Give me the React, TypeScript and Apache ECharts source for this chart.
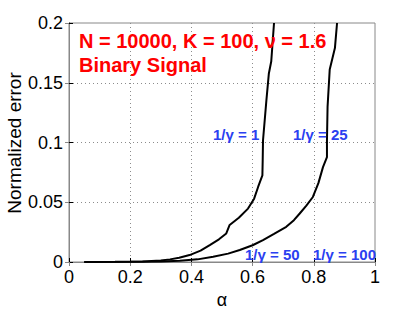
import React, { useEffect, useRef } from "react";
import * as echarts from "echarts";

// Curve data (α, normalized error)
const alphaA = [0.05, 0.15, 0.24, 0.3, 0.33, 0.36, 0.394, 0.43, 0.46, 0.49, 0.514, 0.525, 0.555, 0.585, 0.605, 0.618, 0.632, 0.633, 0.634, 0.645, 0.653, 0.661, 0.67];
const errA = [0, 0.0002, 0.0005, 0.0012, 0.0022, 0.0035, 0.0058, 0.0095, 0.0142, 0.019, 0.0239, 0.031, 0.037, 0.0447, 0.053, 0.0628, 0.0725, 0.085, 0.1017, 0.135, 0.1575, 0.168, 0.2];

const alphaB = [0.05, 0.2, 0.3, 0.362, 0.42, 0.471, 0.52, 0.558, 0.6, 0.634, 0.67, 0.71, 0.735, 0.754, 0.775, 0.797, 0.815, 0.83, 0.843, 0.843, 0.845, 0.852, 0.869, 0.876];
const errB = [0, 0.0002, 0.0005, 0.001, 0.0022, 0.0044, 0.007, 0.01, 0.014, 0.0183, 0.0235, 0.0294, 0.035, 0.0406, 0.047, 0.0544, 0.066, 0.0794, 0.0878, 0.1017, 0.13, 0.161, 0.179, 0.2];

const curveLabels = ["1/γ = 1", "1/γ = 25", "1/γ = 50", "1/γ = 100"];
const titleLines = ["N = 10000, K = 100, ν = 1.6", "Binary Signal"];
const xName = "α";
const yName = "Normalized error";

const FONT = '"Liberation Sans", Arial, Helvetica, sans-serif';

export default function App() {
  const ref = useRef<HTMLDivElement>(null);
  useEffect(() => {
    if (!ref.current) return;
    const chart = echarts.init(ref.current, undefined, { renderer: "svg" });
    const zip = (xs: number[], ys: number[]) => xs.map((x, i) => [x, ys[i]]);
    const labelPos = [
      [213, 134.5],
      [293, 134.5],
      [245, 254.5],
      [313, 254.5],
    ];
    const titlePos = [
      [79, 40.5],
      [79, 64.5],
    ];
    const blue = "#2a40f0";
    const grid = "#8c8c8c";
    chart.setOption({
      animation: false,
      grid: { left: 69, right: 40, top: 23, bottom: 47, show: true, borderColor: "#888", borderWidth: 1, containLabel: false, outerBoundsMode: "none" },
      xAxis: [
        {
          type: "value", min: 0, max: 1, interval: 0.2, position: "bottom",
          name: xName, nameLocation: "middle", nameGap: 28,
          nameTextStyle: { fontSize: 18, color: "#000", fontFamily: FONT },
          axisLine: { show: true, onZero: false, lineStyle: { color: "#000", width: 1 } },
          axisTick: { show: true, inside: true, length: 4, lineStyle: { color: "#000" } },
          axisLabel: { fontSize: 18, color: "#000", margin: 6, fontFamily: FONT, showMinLabel: true, showMaxLabel: true },
          splitLine: { show: true, showMinLine: false, showMaxLine: false, lineStyle: { color: grid, type: [1, 3], width: 1 } },
        },
        {
          type: "value", min: 0, max: 1, interval: 0.2, position: "top",
          axisLine: { show: true, lineStyle: { color: "#888", width: 1 } },
          axisTick: { show: true, inside: true, length: 4, lineStyle: { color: "#888" } },
          axisLabel: { show: false },
          splitLine: { show: false },
        },
      ],
      yAxis: [
        {
          type: "value", min: 0, max: 0.2, interval: 0.05, position: "left",
          axisLine: { show: true, onZero: false, lineStyle: { color: "#000", width: 1 } },
          axisTick: { show: true, inside: true, length: 4, lineStyle: { color: "#000" } },
          axisLabel: { fontSize: 18, color: "#000", margin: 6, fontFamily: FONT, showMinLabel: true, showMaxLabel: true },
          splitLine: { show: true, showMinLine: false, showMaxLine: false, lineStyle: { color: grid, type: [1, 3], width: 1 } },
        },
        {
          type: "value", min: 0, max: 0.2, interval: 0.05, position: "right",
          axisLine: { show: true, lineStyle: { color: "#888", width: 1 } },
          axisTick: { show: true, inside: true, length: 4, lineStyle: { color: "#888" } },
          axisLabel: { show: false },
          splitLine: { show: false },
        },
      ],
      series: [
        {
          type: "line", xAxisIndex: 0, yAxisIndex: 0, data: zip(alphaA, errA),
          showSymbol: false, symbol: "none", lineStyle: { color: "#000", width: 2 }, clip: true,
        },
        {
          type: "line", xAxisIndex: 0, yAxisIndex: 0, data: zip(alphaB, errB),
          showSymbol: false, symbol: "none", lineStyle: { color: "#000", width: 2 }, clip: true,
        },
      ],
      graphic: [
        {
          type: "text", x: 14, y: 143, rotation: Math.PI / 2, z: 10,
          style: { text: yName, fill: "#000", font: `19px ${FONT}`, verticalAlign: "middle", align: "center" },
        },
        ...titleLines.map((t, i) => ({
          type: "text", x: titlePos[i][0], y: titlePos[i][1], z: 10,
          style: { text: t, fill: "#ff0000", font: `bold 20px ${FONT}`, verticalAlign: "middle", align: "left" },
        })),
        ...curveLabels.map((t, i) => ({
          type: "text", x: labelPos[i][0], y: labelPos[i][1], z: 10,
          style: { text: t, fill: blue, font: `bold 15px ${FONT}`, verticalAlign: "middle", align: "left" },
        })),
      ],
    });
    return () => chart.dispose();
  }, []);
  return <div ref={ref} style={{ position: "absolute", left: 0, top: 0, width: 415, height: 309 }} />;
}
